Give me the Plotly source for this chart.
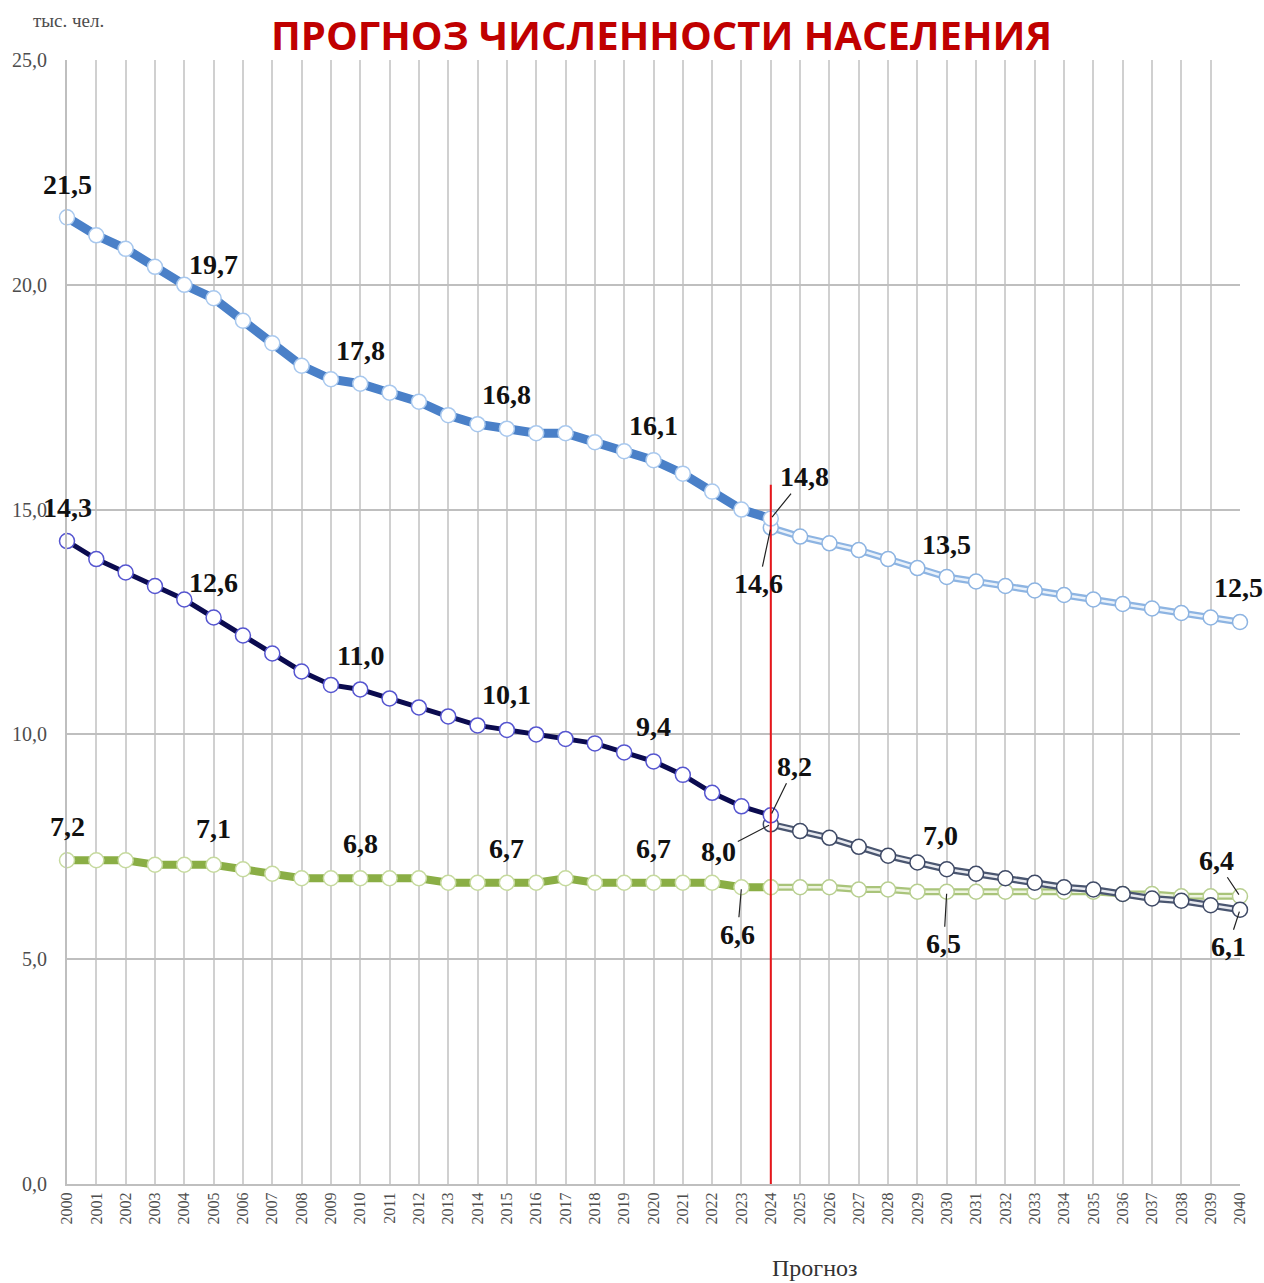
import plotly.graph_objects as go

years_hist = list(range(2000, 2025))
years_fc = list(range(2024, 2041))

total_hist = [21.5, 21.1, 20.8, 20.4, 20.0, 19.7, 19.2, 18.7, 18.2, 17.9, 17.8, 17.6, 17.4, 17.1, 16.9,
              16.8, 16.7, 16.7, 16.5, 16.3, 16.1, 15.8, 15.4, 15.0, 14.8]
total_fc = [14.6, 14.4, 14.25, 14.1, 13.9, 13.7, 13.5, 13.4, 13.3, 13.2, 13.1, 13.0, 12.9, 12.8, 12.7, 12.6, 12.5]

urban_hist = [14.3, 13.9, 13.6, 13.3, 13.0, 12.6, 12.2, 11.8, 11.4, 11.1, 11.0, 10.8, 10.6, 10.4, 10.2,
              10.1, 10.0, 9.9, 9.8, 9.6, 9.4, 9.1, 8.7, 8.4, 8.2]
urban_fc = [8.0, 7.85, 7.7, 7.5, 7.3, 7.15, 7.0, 6.9, 6.8, 6.7, 6.6, 6.55, 6.45, 6.35, 6.3, 6.2, 6.1]

rural_hist = [7.2, 7.2, 7.2, 7.1, 7.1, 7.1, 7.0, 6.9, 6.8, 6.8, 6.8, 6.8, 6.8, 6.7, 6.7,
              6.7, 6.7, 6.8, 6.7, 6.7, 6.7, 6.7, 6.7, 6.6, 6.6]
rural_fc = [6.6, 6.6, 6.6, 6.55, 6.55, 6.5, 6.5, 6.5, 6.5, 6.5, 6.5, 6.5, 6.45, 6.45, 6.4, 6.4, 6.4]

y_ticks = [0, 5, 10, 15, 20, 25]
forecast_year = 2024
forecast_line_top = 15.55

labels = [
    (2000, 21.5), (2005, 19.7), (2010, 17.8), (2015, 16.8), (2020, 16.1),
    (2024, 14.8), (2024, 14.6), (2030, 13.5), (2040, 12.5),
    (2000, 14.3), (2005, 12.6), (2010, 11.0), (2015, 10.1), (2020, 9.4),
    (2024, 8.2), (2024, 8.0), (2030, 7.0), (2040, 6.1),
    (2000, 7.2), (2005, 7.1), (2010, 6.8), (2015, 6.7), (2020, 6.7),
    (2023, 6.6), (2030, 6.5), (2040, 6.4),
]
# label offsets in px (style), arrow flag
label_offsets = [
    (0, -33, False), (0, -34, False), (0, -33, False), (0, -34, False), (0, -35, False),
    (34, -42, True), (-12, 56, True), (0, -33, False), (-2, -35, False),
    (0, -34, False), (0, -35, False), (0, -34, False), (0, -35, False), (0, -35, False),
    (24, -49, True), (-52, 27, True), (-6, -34, False), (-12, 37, True),
    (0, -34, False), (0, -36, False), (0, -35, False), (0, -34, False), (0, -34, False),
    (-4, 47, True), (-3, 52, True), (-24, -36, True),
]

fig = go.Figure()

def hist(x, y, line_c, width, mk_line):
    fig.add_trace(go.Scatter(x=x, y=y, mode="lines+markers", cliponaxis=False,
                             line=dict(color=line_c, width=width),
                             marker=dict(size=15, color="white", line=dict(color=mk_line, width=1.5)),
                             showlegend=False, hoverinfo="skip"))

def fc(x, y, outer, inner, mk_line):
    fig.add_trace(go.Scatter(x=x, y=y, mode="lines", cliponaxis=False,
                             line=dict(color=outer, width=7), showlegend=False, hoverinfo="skip"))
    fig.add_trace(go.Scatter(x=x, y=y, mode="lines+markers", cliponaxis=False,
                             line=dict(color=inner, width=2.5),
                             marker=dict(size=15, color="white", line=dict(color=mk_line, width=1.5)),
                             showlegend=False, hoverinfo="skip"))

fc(years_fc, total_fc, "#8DB4E2", "#EAF2FB", "#8DB4E2")
hist(years_hist, total_hist, "#4A80C8", 9, "#A8C8EE")
fc(years_fc, rural_fc, "#A9C47A", "#EEF4E0", "#B8CF90")
hist(years_hist, rural_hist, "#8AAE45", 8, "#C6DA9E")
fc(years_fc, urban_fc, "#4A5670", "#E8EAF0", "#3F4A66")
hist(years_hist, urban_hist, "#0B0B4F", 5, "#5555D0")

for (yr, v), (ax, ay, arrow) in zip(labels, label_offsets):
    txt = f"{v:.1f}".replace(".", ",")
    if arrow:
        fig.add_annotation(x=yr, y=v, xref="x", yref="y", text=f"<b>{txt}</b>",
                           showarrow=True, ax=ax, ay=ay, axref="pixel", ayref="pixel",
                           arrowhead=0, arrowwidth=1.2, arrowcolor="#222222", standoff=2,
                           font=dict(family="Liberation Serif", size=28, color="#111111"))
    else:
        fig.add_annotation(x=yr, y=v, xref="x", yref="y", text=f"<b>{txt}</b>",
                           showarrow=False, xshift=ax, yshift=-ay,
                           font=dict(family="Liberation Serif", size=28, color="#111111"))

fig.add_shape(type="line", x0=forecast_year, x1=forecast_year, y0=0, y1=forecast_line_top,
              xref="x", yref="y", line=dict(color="#E8161B", width=2), layer="above")

fig.add_annotation(text="<b>ПРОГНОЗ ЧИСЛЕННОСТИ НАСЕЛЕНИЯ</b>", xref="paper", yref="paper",
                   x=0.507, y=1, yshift=26, showarrow=False, xanchor="center", yanchor="middle",
                   font=dict(family="Open Sans", size=40, color="#C00000"))
fig.add_annotation(text="тыс. чел.", xref="paper", yref="paper", x=-0.0306, y=1, yshift=40,
                   showarrow=False, xanchor="left", yanchor="middle",
                   font=dict(family="Liberation Serif", size=19, color="#4D4D4D"))
fig.add_annotation(text="Прогноз", x=2025.5, xref="x", yref="paper", y=0, yshift=-84,
                   showarrow=False, xanchor="center", yanchor="middle",
                   font=dict(family="Liberation Serif", size=24, color="#333333"))

fig.update_layout(
    width=1264, height=1283,
    margin=dict(l=65, r=24, t=60, b=99),
    paper_bgcolor="white", plot_bgcolor="white",
    separators=", ",
    showlegend=False,
    xaxis=dict(range=[2000, 2040], tickmode="array", tickvals=list(range(2000, 2041)),
               ticktext=[str(y) for y in range(2000, 2041)], tickangle=-90,
               tickfont=dict(family="Liberation Serif", size=16, color="#4D4D4D"),
               showgrid=True, gridcolor="#D0D0D0", gridwidth=1.5, zeroline=False,
               showline=True, linecolor="#BFBFBF", linewidth=2, mirror=False, ticks=""),
    yaxis=dict(range=[0, 25], tickmode="array", tickvals=y_ticks,
               ticktext=[f"{v:.1f}".replace(".", ",") for v in y_ticks],
               tickfont=dict(family="Liberation Serif", size=20, color="#4D4D4D"),
               showgrid=True, gridcolor="#BFBFBF", gridwidth=2, zeroline=False,
               showline=True, linecolor="#BFBFBF", linewidth=2, ticks="", ticklabelstandoff=14),
)

fig.write_html("out.html", config={"displayModeBar": False},
               post_script="document.body.style.margin='0';document.body.style.overflow='hidden';")
